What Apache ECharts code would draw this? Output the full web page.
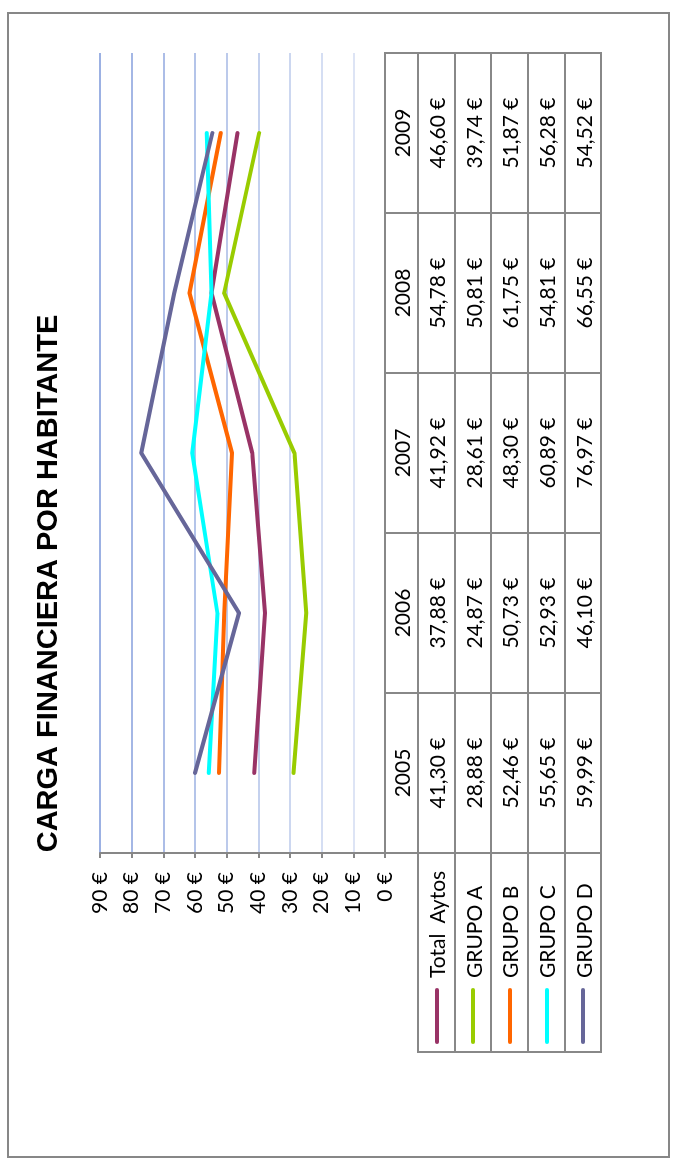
<!DOCTYPE html>
<html>
<head>
<meta charset="utf-8">
<script src="https://cdn.jsdelivr.net/npm/echarts@6/dist/echarts.min.js"></script>
<style>
  html, body { margin: 0; padding: 0; background: #fff; overflow: hidden; }
  #page { position: absolute; left: 0; top: 0; width: 679px; height: 1167px; overflow: hidden; background: #fff; }
  #wrap { position: absolute; left: 0; top: 0; width: 1167px; height: 679px;
          transform-origin: 0 0; transform: translate(0px, 1167px) rotate(-90deg); }
  #chart { position: absolute; left: 0; top: 0; width: 1167px; height: 679px; }
  #frame { position: absolute; left: 9px; top: 7px; width: 1142px; height: 659px; border: 2px solid #878787; box-sizing: content-box; }
  .hl, .vl { position: absolute; background: #888; }
  .cell { position: absolute; display: flex; align-items: center; justify-content: center;
          font-family: Lato, 'Open Sans', sans-serif; font-size: 21px; color: #000; white-space: pre; }
  .leg { position: absolute; display: flex; align-items: center; font-family: Lato, 'Open Sans', sans-serif;
         font-size: 21px; color: #000; white-space: pre; }
  .mark { position: absolute; height: 4px; width: 56px; border-radius: 2px; }
</style>
</head>
<body>
<div id="page">
  <div id="wrap">
    <div id="frame"></div>
    <div id="chart"></div>
    <div id="table"></div>
  </div>
</div>
<script>
// ---- data ----
const years = ['2005', '2006', '2007', '2008', '2009'];
const seriesNames = ['Total  Aytos', 'GRUPO A', 'GRUPO B', 'GRUPO C', 'GRUPO D'];
const totalAytos = [41.30, 37.88, 41.92, 54.78, 46.60];
const grupoA = [28.88, 24.87, 28.61, 50.81, 39.74];
const grupoB = [52.46, 50.73, 48.30, 61.75, 51.87];
const grupoC = [55.65, 52.93, 60.89, 54.81, 56.28];
const grupoD = [59.99, 46.10, 76.97, 66.55, 54.52];
const seriesColors = ['#993366', '#99CC00', '#FF6600', '#00FFFF', '#666699'];
const valueTicks = [0, 10, 20, 30, 40, 50, 60, 70, 80, 90];
const titleText = 'CARGA FINANCIERA POR HABITANTE';

const allSeries = [totalAytos, grupoA, grupoB, grupoC, grupoD];
const fmt = v => v.toFixed(2).replace('.', ',') + ' €';

// ---- chart ----
const chart = echarts.init(document.getElementById('chart'), null, { renderer: 'canvas' });
const gridColors = ['#e4eaf7', '#dde4f5', '#d5def3', '#ccd7f0', '#c4d1ee', '#bccaeb', '#b4c4e9', '#acbde7', '#a4b7e5', '#9cb1e3'];
chart.setOption({
  animation: false,
  title: {
    text: titleText, left: 'center', top: 29,
    textStyle: { fontFamily: 'Liberation Sans, Arial, sans-serif', fontSize: 29, fontWeight: 'bold', color: '#000' }
  },
  grid: { left: 314, right: 53, top: 100, bottom: 294 },
  xAxis: {
    type: 'category', data: years, boundaryGap: true,
    axisLine: { show: true, lineStyle: { color: '#878787', width: 2 } },
    axisTick: { show: false }, axisLabel: { show: false }, splitLine: { show: false }
  },
  yAxis: {
    type: 'value', min: valueTicks[0], max: valueTicks[valueTicks.length - 1], interval: 10,
    axisLine: { show: true, lineStyle: { color: '#878787', width: 2 } },
    axisTick: { show: true, length: 5, lineStyle: { color: '#878787', width: 2 } },
    axisLabel: { formatter: '{value} €', fontFamily: 'Lato, Open Sans, sans-serif', fontSize: 21, color: '#000', margin: 19 },
    splitLine: { show: true, lineStyle: { color: gridColors, width: 2 } }
  },
  series: allSeries.map((d, i) => ({
    type: 'line', name: seriesNames[i], data: d, symbol: 'none',
    lineStyle: { color: seriesColors[i], width: 4, cap: 'round', join: 'round' },
    itemStyle: { color: seriesColors[i] }
  }))
});

// ---- data table (layout) ----
const tbl = document.getElementById('table');
const colX = [115, 314, 474, 634, 794, 954, 1114];
const rowY = [385, 418, 455, 491, 528, 565, 601];
const LW = 2;
function line(cls, x, y, w, h) {
  const d = document.createElement('div'); d.className = cls;
  d.style.left = x + 'px'; d.style.top = y + 'px'; d.style.width = w + 'px'; d.style.height = h + 'px';
  tbl.appendChild(d);
}
line('hl', colX[1] - 1, rowY[0] - 1, colX[6] - colX[1] + LW, LW);
for (let r = 1; r < rowY.length; r++) line('hl', colX[0] - 1, rowY[r] - 1, colX[6] - colX[0] + LW, LW);
line('vl', colX[0] - 1, rowY[1] - 1, LW, rowY[6] - rowY[1] + LW);
for (let c = 1; c < colX.length; c++) line('vl', colX[c] - 1, rowY[0] - 1, LW, rowY[6] - rowY[0] + LW);

function cell(text, x0, x1, y0, y1) {
  const d = document.createElement('div'); d.className = 'cell';
  d.style.left = x0 + 'px'; d.style.top = y0 + 'px'; d.style.width = (x1 - x0) + 'px'; d.style.height = (y1 - y0) + 'px';
  d.textContent = text; tbl.appendChild(d);
}
years.forEach((y, c) => cell(y, colX[c + 1], colX[c + 2], rowY[0], rowY[1]));
allSeries.forEach((s, r) => {
  s.forEach((v, c) => cell(fmt(v), colX[c + 1], colX[c + 2], rowY[r + 1], rowY[r + 2]));
  const cy = (rowY[r + 1] + rowY[r + 2]) / 2;
  const m = document.createElement('div'); m.className = 'mark';
  m.style.left = (colX[0] + 8) + 'px'; m.style.top = (cy - 2) + 'px'; m.style.background = seriesColors[r];
  tbl.appendChild(m);
  const t = document.createElement('div'); t.className = 'leg';
  t.style.left = (colX[0] + 74) + 'px'; t.style.top = rowY[r + 1] + 'px'; t.style.height = (rowY[r + 2] - rowY[r + 1]) + 'px';
  t.textContent = seriesNames[r]; tbl.appendChild(t);
});
</script>
</body>
</html>
